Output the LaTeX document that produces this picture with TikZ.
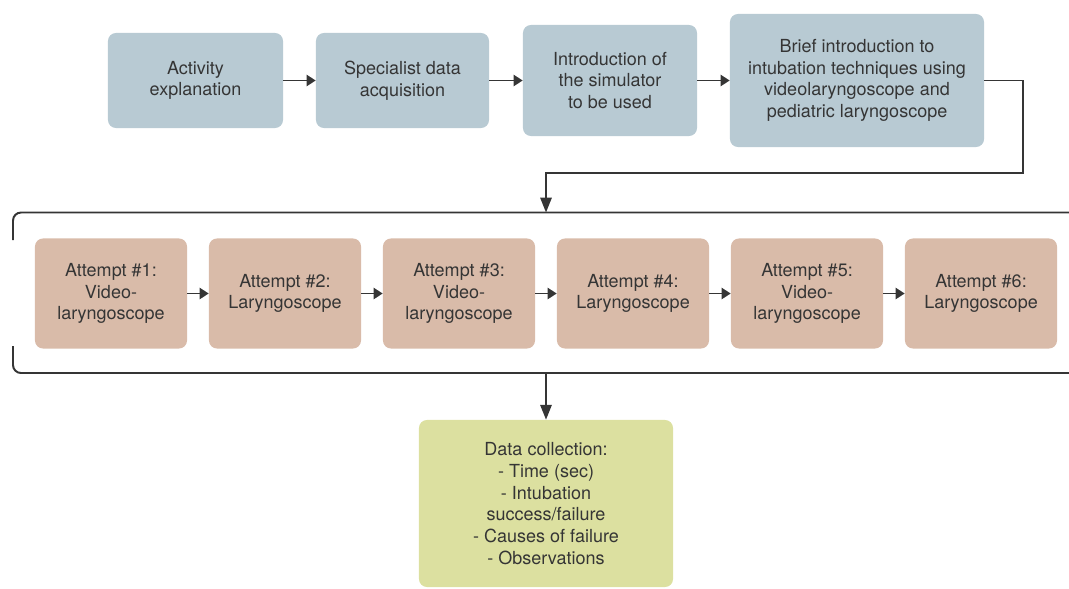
\documentclass[tikz,border=0pt]{standalone}
\usepackage{fontspec}
\setmainfont{TeX Gyre Heros}
\usetikzlibrary{arrows.meta}
\definecolor{stepblue}{HTML}{B8CAD3}
\definecolor{tryrose}{HTML}{D9BBA9}
\definecolor{dataolive}{HTML}{DCE0A0}
\definecolor{inkgray}{HTML}{353535}
\tikzset{
    box/.style = {rounded corners=0.2cm, inner sep=0pt, align=center, text=inkgray,
                  font=\fontsize{12.8}{15.4}\selectfont},
    prepbox/.style = {box, fill=stepblue},
    trybox/.style = {box, fill=tryrose, minimum width=3.8cm, minimum height=2.75cm},
    databox/.style = {box, fill=dataolive},
    flow/.style = {draw=inkgray, line width=1.4pt, -{Triangle[length=6.5pt,width=8pt]}},
    bigflow/.style = {draw=inkgray, line width=1.4pt, -{Triangle[length=10.5pt,width=8pt]}}
}
\begin{document}
\begin{tikzpicture}[x=0.025cm, y=-0.025cm]
    \useasboundingbox (0,0) rectangle (1069,588);
    \node[prepbox, minimum width=4.375cm, minimum height=2.375cm] (activity) at (195.5,80.5) {Activity\\explanation};
    \node[prepbox, minimum width=4.325cm, minimum height=2.375cm] (specialist) at (402.5,80.5) {Specialist data\\acquisition};
    \node[prepbox, minimum width=4.35cm, minimum height=2.775cm] (simulator) at (610,80.5) {Introduction of\\the simulator\\to be used};
    \node[prepbox, minimum width=6.35cm, minimum height=3.325cm] (brief) at (857,80.5) {Brief introduction to\\intubation techniques using\\videolaryngoscope and\\pediatric laryngoscope};
    \draw[flow] (activity) -- (specialist);
    \draw[flow] (specialist) -- (simulator);
    \draw[flow] (simulator) -- (brief);

    \draw[inkgray, line width=1.4pt, rounded corners=0.2cm] (13,240) -- (13,212.5) -- (1069,212.5);
    \draw[inkgray, line width=1.4pt, rounded corners=0.2cm] (13,346) -- (13,373) -- (1069,373);
    \coordinate (bend) at (1023,173);
    \coordinate (frametop) at (546,212.5);
    \coordinate (framebot) at (546,373);
    \draw[bigflow] (brief.east) -| (bend) -| (frametop);

    \node[trybox] (try1) at (111,293.5) {Attempt \#1:\\Video-\\laryngoscope};
    \node[trybox] (try2) at (285,293.5) {Attempt \#2:\\Laryngoscope};
    \node[trybox] (try3) at (459,293.5) {Attempt \#3:\\Video-\\laryngoscope};
    \node[trybox] (try4) at (633,293.5) {Attempt \#4:\\Laryngoscope};
    \node[trybox] (try5) at (807,293.5) {Attempt \#5:\\Video-\\laryngoscope};
    \node[trybox] (try6) at (981,293.5) {Attempt \#6:\\Laryngoscope};
    \foreach \a/\b in {1/2,2/3,3/4,4/5,5/6}
        \draw[flow] (try\a) -- (try\b);

    \node[databox, minimum width=6.35cm, minimum height=4.175cm] (data) at (546,503.5) {Data collection:\\- Time (sec)\\- Intubation\\success/failure\\- Causes of failure\\- Observations};
    \draw[bigflow] (framebot) -- (data.north);
\end{tikzpicture}
\end{document}
